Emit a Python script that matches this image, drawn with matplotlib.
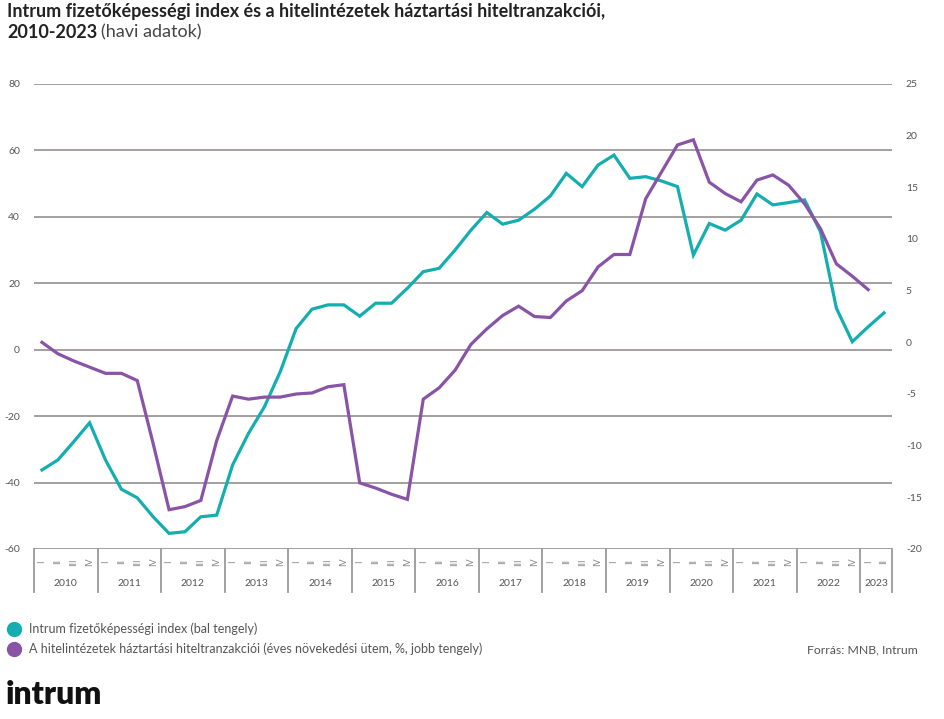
import matplotlib
matplotlib.use("Agg")
import matplotlib.pyplot as plt
import matplotlib.transforms as mtransforms
from matplotlib.lines import Line2D

plt.rcParams['font.family'] = ['Lato', 'DejaVu Sans']

years = [str(y) for y in range(2010, 2024)]
quarters = ["I", "II", "III", "IV"]

# Intrum fizetőképességi index (bal tengely), negyedéves pontok 2010 I - 2023 II
index_vals = [-36.2, -33.2, -27.7, -22.0, -33.2, -42.0, -44.6, -50.3,
              -55.3, -54.8, -50.3, -49.8, -34.7, -25.2, -17.2, -6.6,
              6.4, 12.2, 13.5, 13.5, 10.1, 14.0, 14.0, 18.5,
              23.5, 24.5, 30.0, 36.0, 41.3, 37.8, 39.0, 42.3,
              46.3, 53.1, 49.1, 55.6, 58.6, 51.6, 52.1, 50.8,
              49.1, 28.5, 38.0, 36.0, 39.0, 46.9, 43.6, 44.3,
              45.1, 35.5, 12.5, 2.4, 6.9, 11.1]

# hiteltranzakciók, éves növekedési ütem % (jobb tengely), 2010 I - 2023 I
credit_vals = [0.0, -1.1, -1.8, -2.4, -3.0, -3.0, -3.7, -9.8,
               -16.2, -15.9, -15.3, -9.5, -5.2, -5.5, -5.3, -5.3,
               -5.0, -4.9, -4.3, -4.1, -13.6, -14.1, -14.7, -15.2,
               -5.5, -4.4, -2.7, -0.2, 1.3, 2.6, 3.5, 2.5,
               2.4, 4.0, 5.0, 7.3, 8.5, 8.5, 13.9, 16.5,
               19.1, 19.6, 15.5, 14.4, 13.6, 15.7, 16.2, 15.2,
               13.4, 11.0, 7.6, 6.4, 5.1]

left_ticks = [80, 60, 40, 20, 0, -20, -40, -60]
right_ticks = [25, 20, 15, 10, 5, 0, -5, -10, -15, -20]

teal = "#14AEB0"
purple = "#8A54A6"
grid_col = "#9e9898"
txt_col = "#555555"

W, H = 945, 719
fig = plt.figure(figsize=(W / 100, H / 100), dpi=100)
ax = fig.add_axes([34 / W, (H - 549) / H, (892 - 34) / W, 465 / H])
ax2 = ax.twinx()

nq = len(years) * 4 - 2
ax.set_xlim(-0.5, nq - 0.5)
ax.set_ylim(-60, 80)
ax2.set_ylim(-20, 25)

for v in left_ticks:
    ax.axhline(v, color=grid_col, lw=1.3, zorder=1)

x_idx = list(range(len(index_vals)))
ax.plot(x_idx, index_vals, color=teal, lw=2.3, zorder=3, solid_joinstyle='miter')
ax2.plot(list(range(len(credit_vals))), credit_vals, color=purple, lw=2.3,
         zorder=3, solid_joinstyle='miter')

for a in (ax, ax2):
    for s in a.spines.values():
        s.set_visible(False)
    a.set_xticks([])
    a.tick_params(length=0)

ax.set_yticks(left_ticks)
ax.set_yticklabels([str(v) for v in left_ticks], fontsize=7.5, color=txt_col)
ax.tick_params(axis='y', pad=10)
ax2.set_yticks(right_ticks)
ax2.set_yticklabels([str(v) for v in right_ticks], fontsize=7.5, color=txt_col)
ax2.tick_params(axis='y', pad=10)

# kategória tengely: negyedévek és évek
trans = mtransforms.blended_transform_factory(ax.transData, ax.transAxes)
box_h = 43 / 465
for k in range(len(years)):
    x0 = -0.5 + 4 * k
    ax.plot([x0, x0], [0, -box_h], color=grid_col, lw=1.3, transform=trans, clip_on=False)
    nqk = 4 if k < len(years) - 1 else 2
    for q in range(nqk):
        ax.text(x0 + 0.5 + q, -13 / 465, quarters[q], transform=trans, rotation=90,
                ha='center', va='center', fontsize=6.5, color="#888888")
    ax.text(x0 + nqk / 2, -35 / 465, years[k], transform=trans, ha='center',
            va='center', fontsize=7.5, color=txt_col)
ax.plot([nq - 0.5, nq - 0.5], [0, -box_h], color=grid_col, lw=1.3, transform=trans, clip_on=False)

# cím
fig.text(7 / W, 1 - 12 / H,
         "Intrum fizetőképességi index és a hitelintézetek háztartási hiteltranzakciói,",
         fontsize=13, fontweight='bold', color="#222222", va='center')
t2 = fig.text(7 / W, 1 - 32 / H, "2010-2023", fontsize=13, fontweight='bold',
              color="#222222", va='center')
fig.canvas.draw()
bb = t2.get_window_extent()
fig.text(bb.x1 / W + 4 / W, 1 - 32 / H, "(havi adatok)", fontsize=13,
         color="#444444", va='center')

# jelmagyarázat
leg_items = [("Intrum fizetőképességi index (bal tengely)", teal, 629),
             ("A hitelintézetek háztartási hiteltranzakciói (éves növekedési ütem, %, jobb tengely)",
              purple, 649)]
for label, col, yp in leg_items:
    fig.add_artist(Line2D([14 / W], [1 - yp / H], marker='o', markersize=10,
                          color=col, transform=fig.transFigure, linestyle='none'))
    fig.text(29 / W, 1 - yp / H, label, fontsize=9, color=txt_col, va='center')

fig.text(918 / W, 1 - 650 / H, "Forrás: MNB, Intrum", fontsize=8.8, color=txt_col,
         va='center', ha='right')

fig.text(6 / W, 1 - 695 / H, "intrum", fontsize=23, fontweight='heavy',
         color="#111111", va='center')

fig.savefig("out.png", dpi=100)
